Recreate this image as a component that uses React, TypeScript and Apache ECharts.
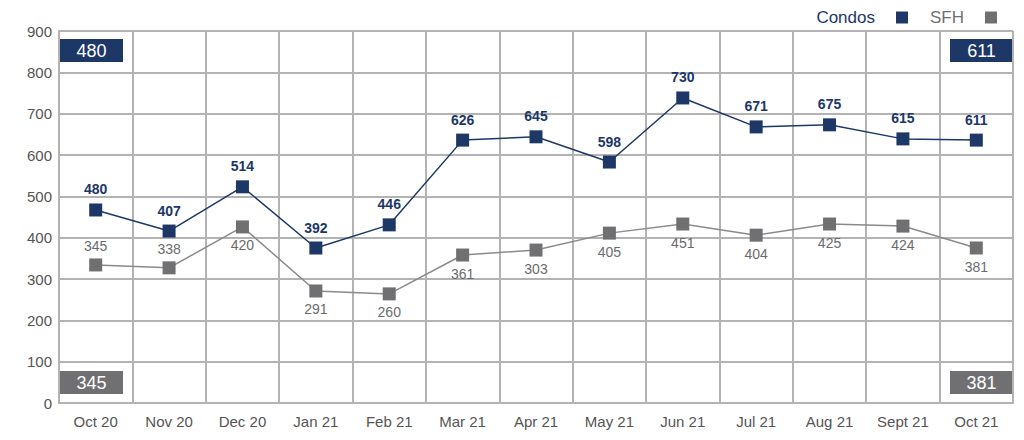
import React, { useEffect, useRef } from "react";
import * as echarts from "echarts";

const categories = ["Oct 20", "Nov 20", "Dec 20", "Jan 21", "Feb 21", "Mar 21", "Apr 21", "May 21", "Jun 21", "Jul 21", "Aug 21", "Sept 21", "Oct 21"];
// plotted positions
const condosValues = [467, 416, 523, 375, 431, 636, 644, 583, 738, 668, 673, 639, 636];
const sfhValues = [334, 327, 426, 271, 264, 358, 370, 411, 433, 406, 433, 428, 375];
// printed labels
const condosLabels = [480, 407, 514, 392, 446, 626, 645, 598, 730, 671, 675, 615, 611];
const sfhLabels = [345, 338, 420, 291, 260, 361, 303, 405, 451, 404, 425, 424, 381];
const sfhLabelAbove = [true, true, false, false, false, false, false, false, false, false, false, false, false];

const NAVY = "#1d3767";
const GRAY = "#707073";
const FONT = "'Liberation Sans', Arial, Helvetica, sans-serif";

export default function App() {
  const ref = useRef<HTMLDivElement>(null);
  useEffect(() => {
    if (!ref.current) return;
    const chart = echarts.init(ref.current, undefined, { renderer: "svg" });
    const box = (x: number, y: number, fill: string, text: string) => ({
      type: "group",
      children: [
        { type: "rect", shape: { x, y, width: 63, height: 23 }, style: { fill } },
        {
          type: "text",
          x: x + 31.5,
          y: y + 12,
          style: { text, fill: "#ffffff", font: `18px ${FONT}`, align: "center", verticalAlign: "middle" },
        },
      ],
    });
    chart.setOption({
      animation: false,
      textStyle: { fontFamily: FONT },
      grid: { left: 59, right: 11, top: 31, bottom: 37 },
      legend: {
        right: 22,
        top: 4,
        align: "right",
        icon: "rect",
        itemWidth: 12,
        itemHeight: 12,
        itemGap: 22,
        textStyle: { fontSize: 17, fontFamily: FONT, color: NAVY, padding: [0, 16, 0, 0] },
        data: [
          { name: "Condos", textStyle: { color: NAVY, fontSize: 17, padding: [0, 16, 0, 0] } },
          { name: "SFH", textStyle: { color: GRAY, fontSize: 17, padding: [0, 16, 0, 0] } },
        ],
      },
      xAxis: {
        type: "category",
        data: categories,
        boundaryGap: true,
        axisLine: { show: true, lineStyle: { color: "#b3b3b3", width: 2 } },
        axisTick: { show: false },
        splitLine: { show: true, lineStyle: { color: "#b3b3b3", width: 2 } },
        axisLabel: { color: "#555", fontSize: 15, margin: 11, fontFamily: FONT },
      },
      yAxis: {
        type: "value",
        min: 0,
        max: 900,
        interval: 100,
        axisLine: { show: true, lineStyle: { color: "#b3b3b3", width: 2 } },
        axisTick: { show: false },
        splitLine: { show: true, lineStyle: { color: "#b3b3b3", width: 2 } },
        axisLabel: { color: "#555", fontSize: 15, margin: 7, fontFamily: FONT },
      },
      series: [
        {
          name: "Condos",
          type: "line",
          data: condosValues.map((v, i) => ({
            value: v,
            label: { formatter: String(condosLabels[i]) },
          })),
          symbol: "rect",
          symbolSize: 13,
          itemStyle: { color: NAVY },
          lineStyle: { color: NAVY, width: 1.5 },
          label: { show: true, position: "top", distance: 7, color: NAVY, fontSize: 14, fontWeight: 600, fontFamily: FONT },
          z: 3,
        },
        {
          name: "SFH",
          type: "line",
          data: sfhValues.map((v, i) => ({
            value: v,
            label: { formatter: String(sfhLabels[i]), position: sfhLabelAbove[i] ? "top" : "bottom" },
          })),
          symbol: "rect",
          symbolSize: 13,
          itemStyle: { color: GRAY },
          lineStyle: { color: "#8a8a8c", width: 1.5 },
          label: { show: true, distance: 5, color: "#6a6a6d", fontSize: 14, fontFamily: FONT },
          z: 2,
        },
      ],
      graphic: [
        box(60, 39, NAVY, String(condosLabels[0])),
        box(950, 39, NAVY, String(condosLabels[condosLabels.length - 1])),
        box(60, 371, GRAY, String(sfhLabels[0])),
        box(950, 371, GRAY, String(sfhLabels[sfhLabels.length - 1])),
      ],
    });
    return () => chart.dispose();
  }, []);
  return <div ref={ref} style={{ width: 1024, height: 440, margin: -8 }} />;
}
